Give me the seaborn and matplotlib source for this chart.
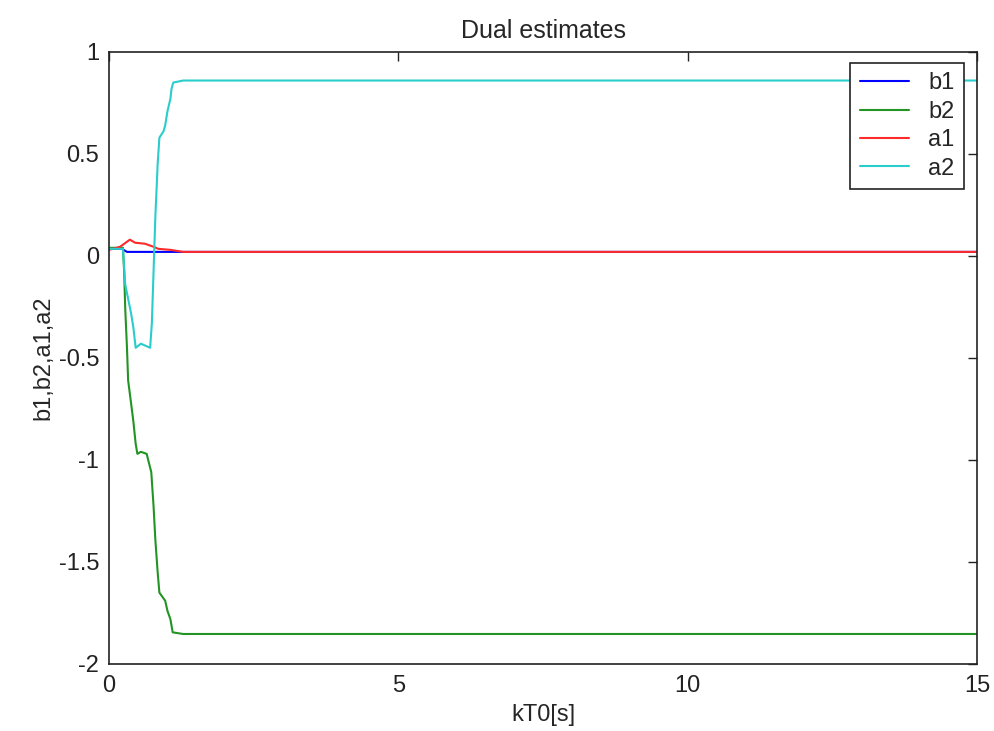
import pandas as pd
import matplotlib
matplotlib.use('Agg')
import matplotlib.pyplot as plt
import seaborn as sns

# estimated trajectories (time in s, parameter value)
t_b1 = [0, 0.22, 0.31, 15]
b1 = [0.035, 0.035, 0.02, 0.02]

t_b2 = [0, 0.24, 0.26, 0.28, 0.31, 0.33, 0.38, 0.42, 0.46, 0.49, 0.55, 0.65,
        0.73, 0.77, 0.80, 0.84, 0.87, 0.97, 1.01, 1.06, 1.10, 1.28, 15]
b2 = [0.04, 0.04, -0.07, -0.26, -0.45, -0.61, -0.72, -0.81, -0.92, -0.97, -0.96, -0.97,
      -1.06, -1.23, -1.39, -1.55, -1.65, -1.69, -1.74, -1.78, -1.845, -1.853, -1.853]

t_a1 = [0, 0.19, 0.36, 0.45, 0.62, 0.77, 0.85, 1.06, 1.28, 15]
a1 = [0.03, 0.045, 0.08, 0.065, 0.06, 0.045, 0.035, 0.03, 0.02, 0.02]

t_a2 = [0, 0.24, 0.28, 0.33, 0.38, 0.42, 0.46, 0.55, 0.71, 0.74, 0.77, 0.80,
        0.84, 0.87, 0.94, 0.97, 1.01, 1.06, 1.08, 1.11, 1.28, 15]
a2 = [0.035, 0.035, -0.14, -0.21, -0.28, -0.35, -0.45, -0.43, -0.45, -0.33, -0.07, 0.19,
      0.45, 0.58, 0.61, 0.64, 0.71, 0.77, 0.82, 0.85, 0.86, 0.86]

names = ['b1', 'b2', 'a1', 'a2']
colors = ['#0000ff', '#239423', '#ff2a2a', '#2acccc']

frames = []
for name, t, v in zip(names, [t_b1, t_b2, t_a1, t_a2], [b1, b2, a1, a2]):
    frames.append(pd.DataFrame({'t': t, 'value': v, 'param': name}))
df = pd.concat(frames, ignore_index=True)

sns.set_style('white')
plt.rcParams['font.family'] = ['Liberation Sans', 'DejaVu Sans']

fig = plt.figure(figsize=(9.94, 7.31), dpi=100)
ax = fig.add_axes([0.1097, 0.0917, 0.8732, 0.8372])

sns.lineplot(data=df, x='t', y='value', hue='param', palette=dict(zip(names, colors)),
             estimator=None, sort=False, linewidth=1.5, ax=ax)

ax.set_xlim(0, 15)
ax.set_ylim(-2, 1)
ax.set_xticks([0, 5, 10, 15])
ax.set_yticks([-2, -1.5, -1, -0.5, 0, 0.5, 1])
ax.set_yticklabels(['-2', '-1.5', '-1', '-0.5', '0', '0.5', '1'])
ax.tick_params(direction='in', length=6.5, width=1, top=True, right=True,
               labelsize=17, colors='#222222')
ax.tick_params(axis='y', pad=7)
ax.tick_params(axis='x', pad=8)
for s in ax.spines.values():
    s.set_color('#222222')
    s.set_linewidth(1.2)

ax.set_title('Dual estimates', fontsize=18, pad=10)
ax.set_xlabel('kT0[s]', fontsize=17, labelpad=5)
ax.set_ylabel('b1,b2,a1,a2', fontsize=17, labelpad=3)

leg = ax.legend(loc='upper right', bbox_to_anchor=(0.985, 0.982), borderaxespad=0,
                fontsize=17, fancybox=False, framealpha=1, edgecolor='#222222',
                handlelength=2.1, handletextpad=0.8, borderpad=0.4, labelspacing=0.27)
leg.get_frame().set_linewidth(1.2)
leg.set_title(None)

fig.savefig('out.png', dpi=100)
